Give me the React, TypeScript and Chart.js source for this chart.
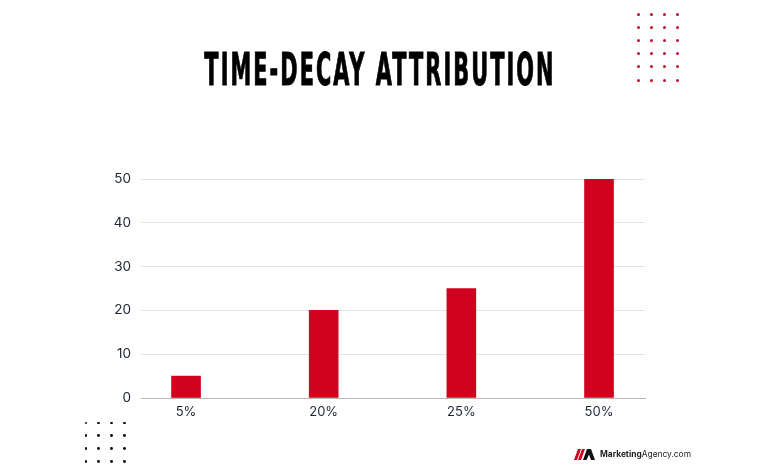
import React, { useEffect, useRef } from "react";
import { Chart, registerables } from "chart.js";

Chart.register(...registerables);

const categories = ["5%", "20%", "25%", "50%"];
const creditValues = [5, 20, 25, 50];
const yTicks = [0, 10, 20, 30, 40, 50];
const titleText = "TIME-DECAY ATTRIBUTION";

const W = 759;
const H = 468;

function Dots({ left, top, cols, rows, gap, color, size }: any) {
  const items = [];
  for (let r = 0; r < rows; r++) {
    for (let c = 0; c < cols; c++) {
      items.push(
        <div
          key={r + "-" + c}
          style={{
            position: "absolute",
            left: left + c * gap - size / 2,
            top: top + r * gap - size / 2,
            width: size,
            height: size,
            borderRadius: "50%",
            background: color,
          }}
        />
      );
    }
  }
  return <>{items}</>;
}

export default function App() {
  const ref = useRef<HTMLCanvasElement | null>(null);

  useEffect(() => {
    if (!ref.current) return;
    const chart = new Chart(ref.current, {
      type: "bar",
      data: {
        datasets: [
          {
            data: creditValues.map((v, i) => ({ x: i, y: v })),
            backgroundColor: "#d0021f",
            borderWidth: 0,
            barThickness: 29,
          },
        ],
      },
      options: {
        animation: false,
        responsive: false,
        maintainAspectRatio: false,
        layout: { padding: { top: 179, right: 114, left: 0, bottom: 0 } },
        plugins: {
          legend: { display: false },
          tooltip: { enabled: false },
          title: { display: false },
        },
        scales: {
          x: {
            type: "linear",
            offset: false,
            min: -0.327,
            max: 3.334,
            grid: { display: false, drawTicks: false, offset: false },
            border: { display: true, color: "#b8b8b8", width: 1 },
            afterBuildTicks: (scale: any) => {
              scale.ticks = categories.map((_, i) => ({ value: i }));
            },
            afterFit: (scale: any) => {
              scale.height = 70;
            },
            ticks: {
              autoSkip: false,
              maxRotation: 0,
              padding: 6,
              color: "#1c2434",
              font: { family: "Inter, 'Open Sans', sans-serif", size: 13 },
              callback: (v: any) => categories[Math.round(Number(v))] ?? "",
            },
          },
          y: {
            min: 0,
            max: 50,
            afterBuildTicks: (scale: any) => {
              scale.ticks = yTicks.map((v) => ({ value: v }));
            },
            afterFit: (scale: any) => {
              scale.width = 141;
            },
            grid: { color: "#e4e4e4", drawTicks: false },
            border: { display: false },
            ticks: {
              padding: 10,
              color: "#1c2434",
              font: { family: "Inter, 'Open Sans', sans-serif", size: 13.5 },
            },
          },
        },
      },
    });
    return () => chart.destroy();
  }, []);

  return (
    <div
      style={{
        position: "absolute",
        left: 0,
        top: 0,
        width: W,
        height: H,
        background: "#ffffff",
        overflow: "hidden",
      }}
    >
      <canvas ref={ref} width={W} height={H} style={{ position: "absolute", left: 0, top: 0 }} />
      <div
        style={{
          position: "absolute",
          left: 0,
          width: W,
          top: 44,
          textAlign: "center",
          fontFamily: "'Liberation Sans Narrow', 'DejaVu Sans Condensed', sans-serif",
          fontWeight: 700,
          fontSize: 45,
          color: "#000",
          lineHeight: "52px",
          whiteSpace: "nowrap",
        }}
      >
        <span
          style={{
            display: "inline-block",
            transform: "scale(0.515, 1)",
            letterSpacing: 4,
            WebkitTextStroke: "1px #000",
          }}
        >
          {titleText}
        </span>
      </div>
      <Dots left={638} top={14} cols={4} rows={6} gap={13.2} color="#c0112c" size={3} />
      <Dots left={86} top={423} cols={4} rows={4} gap={12.8} color="#111" size={2.8} />
      <svg
        width={24}
        height={11}
        viewBox="0 0 24 11"
        style={{ position: "absolute", left: 574, top: 449 }}
      >
        <polygon points="0,11 4,0 7,0 3,11" fill="#d0021f" />
        <polygon points="4,11 8,0 11,0 7,11" fill="#d0021f" />
        <polygon points="9,11 13,0 17,0 21,11 17,11 15,5.5 12.5,11" fill="#111" />
      </svg>
      <div
        style={{
          position: "absolute",
          left: 600,
          top: 449,
          fontFamily: "Inter, 'Open Sans', sans-serif",
          fontSize: 8.4,
          lineHeight: "11px",
          color: "#222",
          whiteSpace: "nowrap",
        }}
      >
        <span style={{ fontWeight: 700 }}>Marketing</span>
        <span>Agency.com</span>
      </div>
    </div>
  );
}
